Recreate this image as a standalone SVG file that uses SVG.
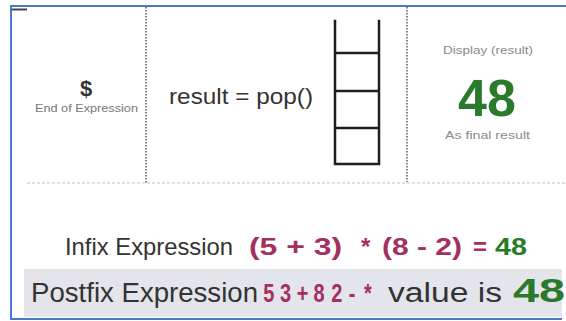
<svg xmlns="http://www.w3.org/2000/svg" width="566" height="321" viewBox="0 0 566 321">
<defs>
<style>
.lbl{font-family:"Liberation Sans",Arial,sans-serif;fill:#333}
.small{font-family:"Liberation Sans",Arial,sans-serif;fill:#8a8a8a;font-size:10.5px}
.expr{font-family:"Liberation Sans",Arial,sans-serif;fill:#a3305f;font-weight:bold}
.grn{font-family:"Liberation Sans",Arial,sans-serif;fill:#2b7a2b;font-weight:bold}
.vdot{stroke:#5a5a5a;stroke-width:1.5;stroke-dasharray:1.5 1.5;fill:none}
.hdot{stroke:#b3c6ce;stroke-width:1.2;stroke-dasharray:3 2;fill:none}
.stk{stroke:#1e1e1e;stroke-width:2.5;fill:none;stroke-linecap:square}
</style>
</defs>
<rect x="0" y="0" width="566" height="321" fill="#ffffff"/>
<rect x="24" y="269" width="538" height="48" fill="#e4e4eb"/>
<path d="M11 320 V6 H566" fill="none" stroke="#4a78cf" stroke-width="2"/>
<path d="M11 319 H562" fill="none" stroke="#4a78cf" stroke-width="2"/>
<line x1="12" y1="9.5" x2="27" y2="9.5" stroke="#444" stroke-width="2"/>
<g id="dividers">
<line class="vdot" x1="146" y1="7" x2="146" y2="184"/>
<line class="vdot" x1="407" y1="7" x2="407" y2="182"/>
<line class="hdot" x1="27" y1="183" x2="566" y2="183"/>
</g>
<g id="end-of-expression">
<text class="lbl" x="86" y="96" font-size="22" font-weight="bold" text-anchor="middle">$</text>
<text class="lbl" x="35" y="112" font-size="11.5" textLength="103" lengthAdjust="spacingAndGlyphs" style="fill:#777">End of Expression</text>
</g>
<g id="pop-step">
<text class="lbl" x="169" y="104" font-size="22" textLength="144" lengthAdjust="spacingAndGlyphs">result = pop()</text>
</g>
<g id="stack">
<path class="stk" d="M335 21 V164 H379 V21 M335 53 H379 M335 91 H379 M335 128 H379"/>
</g>
<g id="display">
<text class="small" x="443" y="54" textLength="90" lengthAdjust="spacingAndGlyphs">Display  (result)</text>
<text class="grn" x="487" y="116" font-size="52" text-anchor="middle">48</text>
<text class="small" x="445" y="139" textLength="85" lengthAdjust="spacingAndGlyphs">As final result</text>
</g>
<g id="infix">
<text class="lbl" x="65" y="255" font-size="24" textLength="168" lengthAdjust="spacingAndGlyphs">Infix Expression</text>
<text class="expr" x="249" y="255" font-size="24" textLength="93" lengthAdjust="spacingAndGlyphs">(5 + 3)</text>
<text class="expr" x="361" y="255" font-size="24">*</text>
<text class="expr" x="382" y="255" font-size="24" textLength="80" lengthAdjust="spacingAndGlyphs">(8 - 2)</text>
<text class="expr" x="473" y="255" font-size="24">=</text>
<text class="grn" x="495" y="255" font-size="24" textLength="32" lengthAdjust="spacingAndGlyphs">48</text>
</g>
<g id="postfix">
<text class="lbl" x="31" y="302" font-size="27" textLength="227" lengthAdjust="spacingAndGlyphs">Postfix Expression</text>
<text class="expr" transform="translate(0 302) scale(0.8 1)" y="0" font-size="25"><tspan x="329">5</tspan><tspan x="350">3</tspan><tspan x="371">+</tspan><tspan x="392">8</tspan><tspan x="414">2</tspan><tspan x="436">-</tspan><tspan x="455">*</tspan></text>
<text class="lbl" x="388" y="302" font-size="27" textLength="114" lengthAdjust="spacingAndGlyphs">value is</text>
<text class="grn" x="513" y="302" font-size="33" textLength="52" lengthAdjust="spacingAndGlyphs">48</text>
</g>
</svg>
